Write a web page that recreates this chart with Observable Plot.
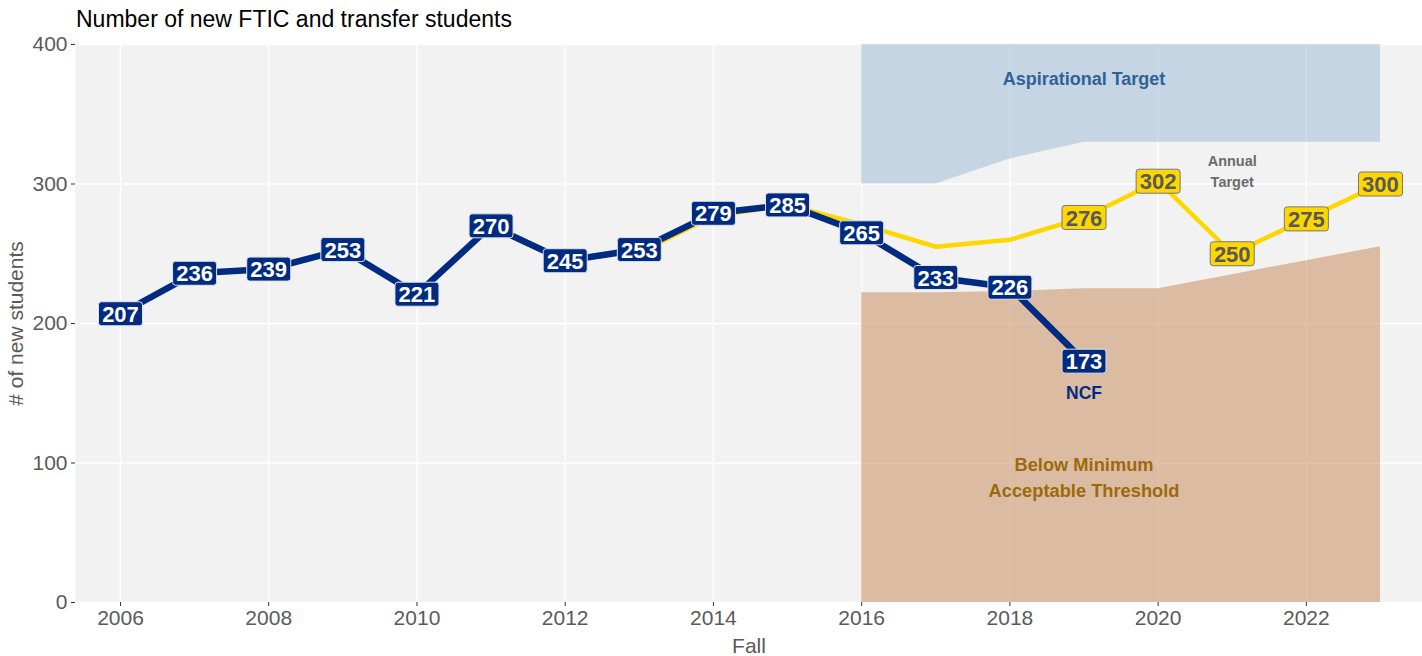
<!DOCTYPE html>
<html><head><meta charset="utf-8">
<script src="https://cdn.jsdelivr.net/npm/d3@7"></script>
<script src="https://cdn.jsdelivr.net/npm/@observablehq/plot@0.6"></script>
<style>
body{margin:0;background:#fff;font-family:"Liberation Sans",Arial,sans-serif;}
#wrap{position:relative;width:1422px;height:656px;}
#title{position:absolute;left:76px;top:6px;font-size:23px;color:#000;line-height:26px;}
</style></head><body>
<div id="wrap"><div id="title">Number of new FTIC and transfer students</div></div>
<script>
// NCF actual new students
const ncfYears  = [2006,2007,2008,2009,2010,2011,2012,2013,2014,2015,2016,2017,2018,2019];
const ncfValues = [207, 236, 239, 253, 221, 270, 245, 253, 279, 285, 265, 233, 226, 173];
// Annual target
const targetYears  = [2013,2014,2015,2016,2017,2018,2019,2020,2021,2022,2023];
const targetValues = [251, 277, 285, 271, 255, 260, 276, 302, 250, 275, 300];
const targetLabelYears = [2019,2020,2021,2022,2023];
// Aspirational target band
const bandYears = [2016,2017,2018,2019,2020,2021,2022,2023];
const aspLow  = [300, 300, 318, 330, 330, 330, 330, 330];
const aspHigh = [400, 400, 400, 400, 400, 400, 400, 400];
// Minimum acceptable threshold
const minThreshold = [222, 222, 223, 225, 225, 235, 245, 255];
// axis ticks
const xTicks = [2006,2008,2010,2012,2014,2016,2018,2020,2022];
const yTicks = [0,100,200,300,400];
// annotations
const annYears = [2019, 2021, 2019, 2019];
const annValues = [375, 310, 150, 91];
const annTexts = ["Aspirational Target", "Annual\nTarget", "NCF", "Below Minimum\nAcceptable Threshold"];

const ncf = ncfYears.map((year,i)=>({year, value: ncfValues[i]}));
const target = targetYears.map((year,i)=>({year, value: targetValues[i]}));
const targetLabels = target.filter(d=>targetLabelYears.includes(d.year));
const band = bandYears.map((year,i)=>({year, lo: aspLow[i], hi: aspHigh[i], min: minThreshold[i]}));
const ann = annYears.map((year,i)=>({year, value: annValues[i], text: annTexts[i]}));

const font = '"Liberation Sans", Arial, sans-serif';

function roundRect(w, h, r) {
  return {draw(ctx) {
    const x0=-w/2, x1=w/2, y0=-h/2, y1=h/2;
    ctx.moveTo(x0+r, y0);
    ctx.lineTo(x1-r, y0); ctx.arcTo(x1, y0, x1, y0+r, r);
    ctx.lineTo(x1, y1-r); ctx.arcTo(x1, y1, x1-r, y1, r);
    ctx.lineTo(x0+r, y1); ctx.arcTo(x0, y1, x0, y1-r, r);
    ctx.lineTo(x0, y0+r); ctx.arcTo(x0, y0, x0+r, y0, r);
    ctx.closePath();
  }};
}
const box = roundRect(44, 24, 3);

const chart = Plot.plot({
  width: 1422, height: 656,
  marginTop: 44, marginBottom: 54, marginLeft: 75, marginRight: 0,
  style: {fontFamily: font, background: "#fff", color: "#5a5a5a", overflow: "visible"},
  x: {domain: [2005.393, 2023.567]},
  y: {domain: [0, 400]},
  marks: [
    Plot.frame({fill: "#f2f2f2", stroke: null}),
    Plot.gridX(xTicks, {stroke: "#fff", strokeOpacity: 1, strokeWidth: 1.3}),
    Plot.gridY(yTicks, {stroke: "#fff", strokeOpacity: 1, strokeWidth: 1.3}),
    Plot.areaY(band, {x: "year", y1: "lo", y2: "hi", fill: "#98b8d6", fillOpacity: 0.5}),
    Plot.areaY(band, {x: "year", y1: 0, y2: "min", fill: "#c48654", fillOpacity: 0.5}),
    Plot.axisX({ticks: xTicks, tickFormat: d => String(d), tickSize: 4, tickPadding: 4, fontSize: 21,
      label: "Fall", labelAnchor: "center", labelOffset: 50, labelArrow: "none", stroke: "#333"}),
    Plot.axisY({ticks: yTicks, tickSize: 4, tickPadding: 4, fontSize: 21,
      label: "# of new students", labelAnchor: "center", labelOffset: 67, labelArrow: "none", stroke: "#333"}),
    Plot.line(target, {x: "year", y: "value", stroke: "#FFD700", strokeWidth: 4.5}),
    Plot.line(ncf, {x: "year", y: "value", stroke: "#002B80", strokeWidth: 6.5}),
    Plot.dot(ncf, {x: "year", y: "value", symbol: box, fill: "#002B80", stroke: "#dfe3ec", strokeWidth: 1, r: 10}),
    Plot.text(ncf, {x: "year", y: "value", text: d => String(d.value), fill: "#fff", fontWeight: "bold", fontSize: 22, dy: 1}),
    Plot.dot(targetLabels, {x: "year", y: "value", symbol: box, fill: "#FFD700", stroke: "#777", strokeWidth: 1, r: 10}),
    Plot.text(targetLabels, {x: "year", y: "value", text: d => String(d.value), fill: "#595959", fontWeight: "bold", fontSize: 22, dy: 1}),
    Plot.text(ann.slice(0,1), {x: "year", y: "value", text: "text", fill: "#2f6396", fontWeight: "bold", fontSize: 18}),
    Plot.text(ann.slice(1,2), {x: "year", y: "value", text: "text", fill: "#6b6b6b", fontWeight: "bold", fontSize: 14.5, lineHeight: 1.45}),
    Plot.text(ann.slice(2,3), {x: "year", y: "value", text: "text", fill: "#002B80", fontWeight: "bold", fontSize: 17.5}),
    Plot.text(ann.slice(3,4), {x: "year", y: "value", text: "text", fill: "#9c6a0a", fontWeight: "bold", fontSize: 18.3, lineHeight: 1.42})
  ]
});
document.getElementById("wrap").prepend(chart);
</script>
</body></html>
